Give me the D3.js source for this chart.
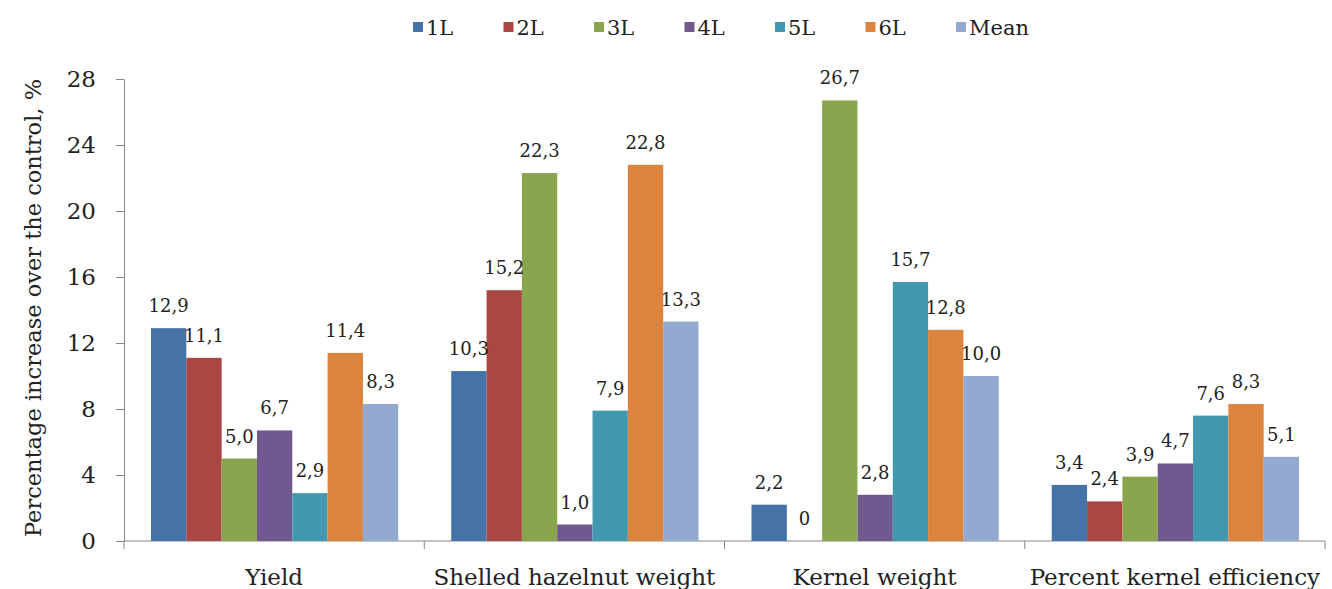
<!DOCTYPE html>
<html>
<head>
<meta charset="utf-8">
<script src="https://cdn.jsdelivr.net/npm/d3@7"></script>
<style>
  body { margin: 0; background: #fff; }
  svg { display: block; font-family: "DejaVu Serif", serif; }
</style>
</head>
<body>
<svg id="chart" width="1332" height="589"></svg>
<script>
// chart data
const categories = ["Yield", "Shelled hazelnut weight", "Kernel weight", "Percent kernel efficiency"];
const seriesNames = ["1L", "2L", "3L", "4L", "5L", "6L", "Mean"];
const s1L   = [12.9, 10.3, 2.2, 3.4];
const s2L   = [11.1, 15.2, 0, 2.4];
const s3L   = [5.0, 22.3, 26.7, 3.9];
const s4L   = [6.7, 1.0, 2.8, 4.7];
const s5L   = [2.9, 7.9, 15.7, 7.6];
const s6L   = [11.4, 22.8, 12.8, 8.3];
const sMean = [8.3, 13.3, 10.0, 5.1];
const yTicks = [0, 4, 8, 12, 16, 20, 24, 28];
const colors = ["#4572A7", "#AA4643", "#89A54E", "#71588F", "#4198AF", "#DB843D", "#93A9CF"];

const seriesValues = [s1L, s2L, s3L, s4L, s5L, s6L, sMean];
const rows = categories.map((c, i) => ({
  cat: c,
  vals: seriesNames.map((s, j) => ({ key: s, value: seriesValues[j][i] }))
}));

const margin = { top: 79, right: 7, bottom: 48, left: 124 };
const W = 1332, H = 589;
const innerW = W - margin.left - margin.right;
const innerH = H - margin.top - margin.bottom;

const svg = d3.select("#chart");
const g = svg.append("g").attr("transform", `translate(${margin.left},${margin.top})`);

const x0 = d3.scaleBand().domain(categories).range([0, innerW]).padding(0);
const x1 = d3.scaleBand().domain(seriesNames).range([27, x0.bandwidth() - 26]).padding(0);
const y = d3.scaleLinear().domain([0, 28]).range([innerH, 0]);
const color = d3.scaleOrdinal().domain(seriesNames).range(colors);

// y axis
const yAxis = d3.axisLeft(y).tickValues(yTicks).tickSize(8).tickSizeOuter(0).tickPadding(20);
const ya = g.append("g").attr("class", "y axis").call(yAxis);
ya.select(".domain").attr("stroke", "#868686");
ya.selectAll(".tick line").attr("stroke", "#868686");
ya.selectAll(".tick text").attr("font-size", 23).attr("font-family", "DejaVu Serif").attr("fill", "#222");

// x axis: ticks at category boundaries
g.append("line")
  .attr("x1", 0).attr("x2", innerW)
  .attr("y1", innerH).attr("y2", innerH)
  .attr("stroke", "#868686");
const bounds = categories.map(c => x0(c)).concat([innerW]);
g.selectAll(".xtick").data(bounds).enter().append("line")
  .attr("class", "xtick")
  .attr("x1", d => d).attr("x2", d => d)
  .attr("y1", innerH).attr("y2", innerH + 8)
  .attr("stroke", "#868686");
g.selectAll(".xlabel").data(categories).enter().append("text")
  .attr("class", "xlabel")
  .attr("x", d => x0(d) + x0.bandwidth() / 2)
  .attr("y", innerH + 44)
  .attr("text-anchor", "middle")
  .attr("font-size", 23)
  .attr("fill", "#222")
  .text(d => d);

// bars
const groups = g.selectAll(".cat").data(rows).enter().append("g")
  .attr("class", "cat")
  .attr("transform", d => `translate(${x0(d.cat)},0)`);

groups.selectAll("rect").data(d => d.vals).enter().append("rect")
  .attr("x", d => x1(d.key))
  .attr("y", d => y(d.value))
  .attr("width", x1.bandwidth())
  .attr("height", d => innerH - y(d.value))
  .attr("fill", d => color(d.key));

groups.selectAll(".lbl").data(d => d.vals).enter().append("text")
  .attr("class", "lbl")
  .attr("x", d => x1(d.key) + x1.bandwidth() / 2)
  .attr("y", d => y(d.value) - 16)
  .attr("text-anchor", "middle")
  .attr("font-size", 18)
  .attr("fill", "#222")
  .text(d => d.value === 0 ? "0" : d.value.toFixed(1).replace(".", ","));

// y title
svg.append("text")
  .attr("transform", `translate(41,${margin.top + innerH / 2 - 2}) rotate(-90)`)
  .attr("text-anchor", "middle")
  .attr("font-size", 22.5)
  .attr("fill", "#222")
  .text("Percentage increase over the control, %");

// legend
const legend = svg.append("g").attr("transform", "translate(413,0)");
const li = legend.selectAll(".li").data(seriesNames).enter().append("g")
  .attr("class", "li")
  .attr("transform", (d, i) => `translate(${i * 90.5},0)`);
li.append("rect").attr("x", 0).attr("y", 22).attr("width", 10).attr("height", 10)
  .attr("fill", d => color(d));
li.append("text").attr("x", 13).attr("y", 35)
  .attr("font-size", 21).attr("fill", "#222")
  .text(d => d);
</script>
</body>
</html>
